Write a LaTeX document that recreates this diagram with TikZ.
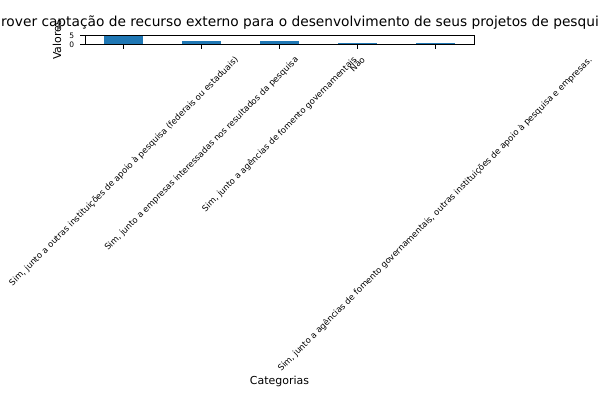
\documentclass[tikz,border=0pt]{standalone}
\usepackage{fontspec}
\setmainfont{DejaVu Sans}
\usepackage{graphicx}
\definecolor{barblue}{HTML}{1F77B4}
\begin{document}
\begin{tikzpicture}[x=0.72pt,y=-0.72pt,
  bar/.style={fill=barblue,draw=none},
  axisline/.style={draw=black,line width=0.6pt},
  ticklab/.style={anchor=north,inner sep=0pt,font=\fontsize{6.1}{7}\selectfont},
  ytlab/.style={anchor=east,inner sep=0pt,font=\fontsize{5.4}{6}\selectfont},
  axlab/.style={inner sep=0pt,font=\fontsize{7.9}{9}\selectfont}]
\useasboundingbox (0,0) rectangle (600,400);
\fill[white] (0,0) rectangle (600,400);
% bars (values 5,2,2,1,1; ylim 0..5.25)
\fill[bar] (104.45,44.3) rectangle (143.35,35.73);
\fill[bar] (182.25,44.3) rectangle (221.15,40.87);
\fill[bar] (260.05,44.3) rectangle (298.95,40.87);
\fill[bar] (337.85,44.3) rectangle (376.75,42.59);
\fill[bar] (415.65,44.3) rectangle (454.55,42.59);
% frame
\draw[axisline] (85,35.3) rectangle (474,44.3);
% x ticks
\foreach \i/\xc in {1/123.9,2/201.7,3/279.5,4/357.3,5/435.1}{
  \coordinate (t\i) at (\xc,44.3);
  \coordinate (tb\i) at (\xc,49.3);
  \draw[axisline] (t\i) -- (tb\i);
}
% y ticks
\coordinate (y0) at (85,44.3);
\coordinate (y0e) at (80,44.3);
\coordinate (y5) at (85,35.73);
\coordinate (y5e) at (80,35.73);
\draw[axisline] (y0) -- (y0e);
\draw[axisline] (y5) -- (y5e);
\node[ytlab] (ylab0) at (74.5,44.3) {0};
\node[ytlab] (ylab5) at (74.5,35.73) {5};
% x tick labels
\node[ticklab] (l1) at (123.9,55.5) {\rotatebox{45}{Sim, junto a outras instituições de apoio à pesquisa (federais ou estaduais)}};
\node[ticklab] (l2) at (201.7,55.5) {\rotatebox{45}{Sim, junto a empresas interessadas nos resultados da pesquisa}};
\node[ticklab] (l3) at (279.5,55.5) {\rotatebox{45}{Sim, junto a agências de fomento governamentais}};
\node[ticklab] (l4) at (357.3,55.5) {\rotatebox{45}{Não}};
\node[ticklab] (l5) at (435.1,55.5) {\rotatebox{45}{Sim, junto a agências de fomento governamentais, outras instituições de apoio à pesquisa e empresas.}};
% axis labels
\node[axlab,anchor=base] (xlab) at (279.5,384.3) {Categorias};
\node[axlab,rotate=90,anchor=base] (ylab) at (61,39.8) {Valores};
% title (clipped by figure edge)
\begin{scope}
\clip (0,0) rectangle (600,400);
\node[anchor=base,inner sep=0pt,font=\fontsize{9.9}{12}\selectfont] (title) at (300,27) {rover captação de recurso externo para o desenvolvimento de seus projetos de pesqui};
\end{scope}
\end{tikzpicture}
\end{document}
